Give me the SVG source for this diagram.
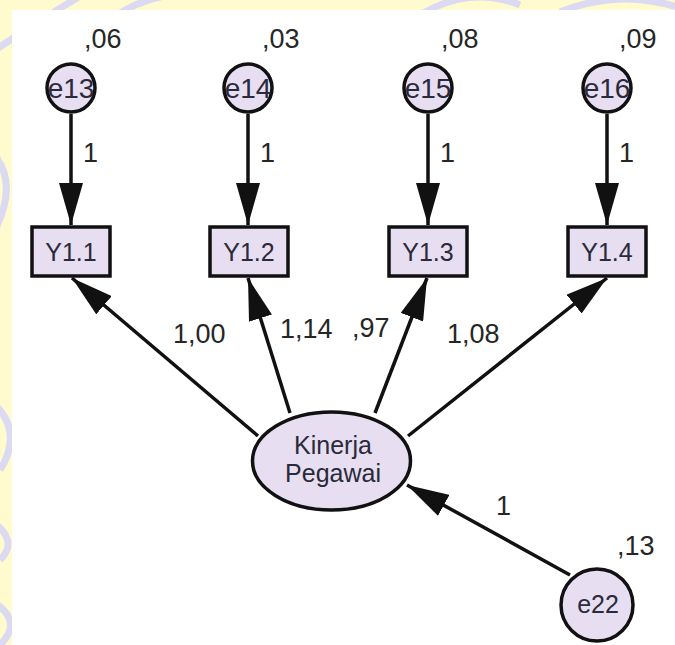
<svg xmlns="http://www.w3.org/2000/svg" width="675" height="645" viewBox="0 0 675 645">
  <defs>
    <style>
      .node { fill: #e7def1; stroke: #111; stroke-width: 3.5; }
      .edge { stroke: #111; stroke-width: 3.5; fill: none; marker-end: url(#head); }
      .lbl { font-family: "Liberation Sans", Arial, sans-serif; font-size: 27px; fill: #262626; }
      .ntx { font-family: "Liberation Sans", Arial, sans-serif; font-size: 25px; fill: #2a2a3a; text-anchor: middle; }
      .etx { font-size: 28px; }
      .wm { fill: none; stroke: #dcdaf2; stroke-width: 7; }
    </style>
    <marker id="head" viewBox="0 0 42 24" refX="42" refY="12" markerWidth="42" markerHeight="24" markerUnits="userSpaceOnUse" orient="auto">
      <path d="M0,0 L42,12 L0,24 Z" fill="#111"/>
    </marker>
    <clipPath id="strip">
      <path d="M0,0 H675 V10 H12 V645 H0 Z"/>
    </clipPath>
  </defs>

  <!-- page background: pale yellow frame with faint watermark strokes -->
  <rect width="675" height="645" fill="#ffffff"/>
  <g clip-path="url(#strip)">
    <rect width="675" height="645" fill="#fffbcf"/>
    <g class="wm">
      <path d="M-20,60 Q40,20 90,-10"/>
      <path d="M110,20 Q150,-10 200,-5"/>
      <path d="M420,15 Q470,-15 520,5"/>
      <path d="M560,12 Q620,-12 680,8"/>
      <path d="M-10,150 Q20,180 -5,230"/>
      <path d="M-10,400 Q25,430 0,470"/>
      <path d="M-10,520 Q20,540 0,560"/>
      <path d="M-10,600 Q25,620 0,645"/>
    </g>
  </g>

  <!-- connectors -->
  <g id="connectors">
    <line class="edge" x1="71" y1="114" x2="71" y2="225"/>
    <line class="edge" x1="248" y1="114" x2="248" y2="225"/>
    <line class="edge" x1="428" y1="114" x2="428" y2="225"/>
    <line class="edge" x1="607" y1="114" x2="607" y2="225"/>
    <line class="edge" x1="258" y1="436" x2="72" y2="278"/>
    <line class="edge" x1="290" y1="413" x2="248" y2="278"/>
    <line class="edge" x1="375" y1="413" x2="427" y2="278"/>
    <line class="edge" x1="408" y1="436" x2="607" y2="278"/>
    <line class="edge" x1="570" y1="575" x2="407" y2="485"/>
  </g>

  <!-- path and variance labels -->
  <g id="labels">
    <text class="lbl" x="84" y="48">,06</text>
    <text class="lbl" x="262" y="48">,03</text>
    <text class="lbl" x="441" y="48">,08</text>
    <text class="lbl" x="619" y="48">,09</text>
    <text class="lbl" x="83" y="162">1</text>
    <text class="lbl" x="260" y="162">1</text>
    <text class="lbl" x="440" y="162">1</text>
    <text class="lbl" x="619" y="162">1</text>
    <text class="lbl" x="173" y="343">1,00</text>
    <text class="lbl" x="280" y="338">1,14</text>
    <text class="lbl" x="352" y="337">,97</text>
    <text class="lbl" x="447" y="343">1,08</text>
    <text class="lbl" x="496" y="515">1</text>
    <text class="lbl" x="617" y="555">,13</text>
  </g>

  <!-- error terms -->
  <g id="e13"><circle class="node" cx="71" cy="88" r="24"/><text class="ntx etx" x="71" y="98">e13</text></g>
  <g id="e14"><circle class="node" cx="248" cy="88" r="24"/><text class="ntx etx" x="248" y="98">e14</text></g>
  <g id="e15"><circle class="node" cx="428" cy="88" r="24"/><text class="ntx etx" x="428" y="98">e15</text></g>
  <g id="e16"><circle class="node" cx="607" cy="88" r="24"/><text class="ntx etx" x="607" y="98">e16</text></g>

  <!-- observed indicators -->
  <g id="Y1.1"><rect class="node" x="32" y="227" width="78" height="49"/><text class="ntx" x="71" y="261">Y1.1</text></g>
  <g id="Y1.2"><rect class="node" x="210" y="227" width="78" height="49"/><text class="ntx" x="249" y="261">Y1.2</text></g>
  <g id="Y1.3"><rect class="node" x="389" y="227" width="78" height="49"/><text class="ntx" x="428" y="261">Y1.3</text></g>
  <g id="Y1.4"><rect class="node" x="568" y="227" width="78" height="49"/><text class="ntx" x="607" y="261">Y1.4</text></g>

  <!-- latent construct -->
  <g id="KinerjaPegawai">
    <ellipse class="node" cx="331.5" cy="461" rx="79" ry="49"/>
    <text class="ntx" x="333" y="454">Kinerja</text>
    <text class="ntx" x="333" y="482">Pegawai</text>
  </g>

  <!-- disturbance -->
  <g id="e22"><circle class="node" cx="597" cy="605" r="36"/><text class="ntx" x="598" y="613">e22</text></g>
</svg>
